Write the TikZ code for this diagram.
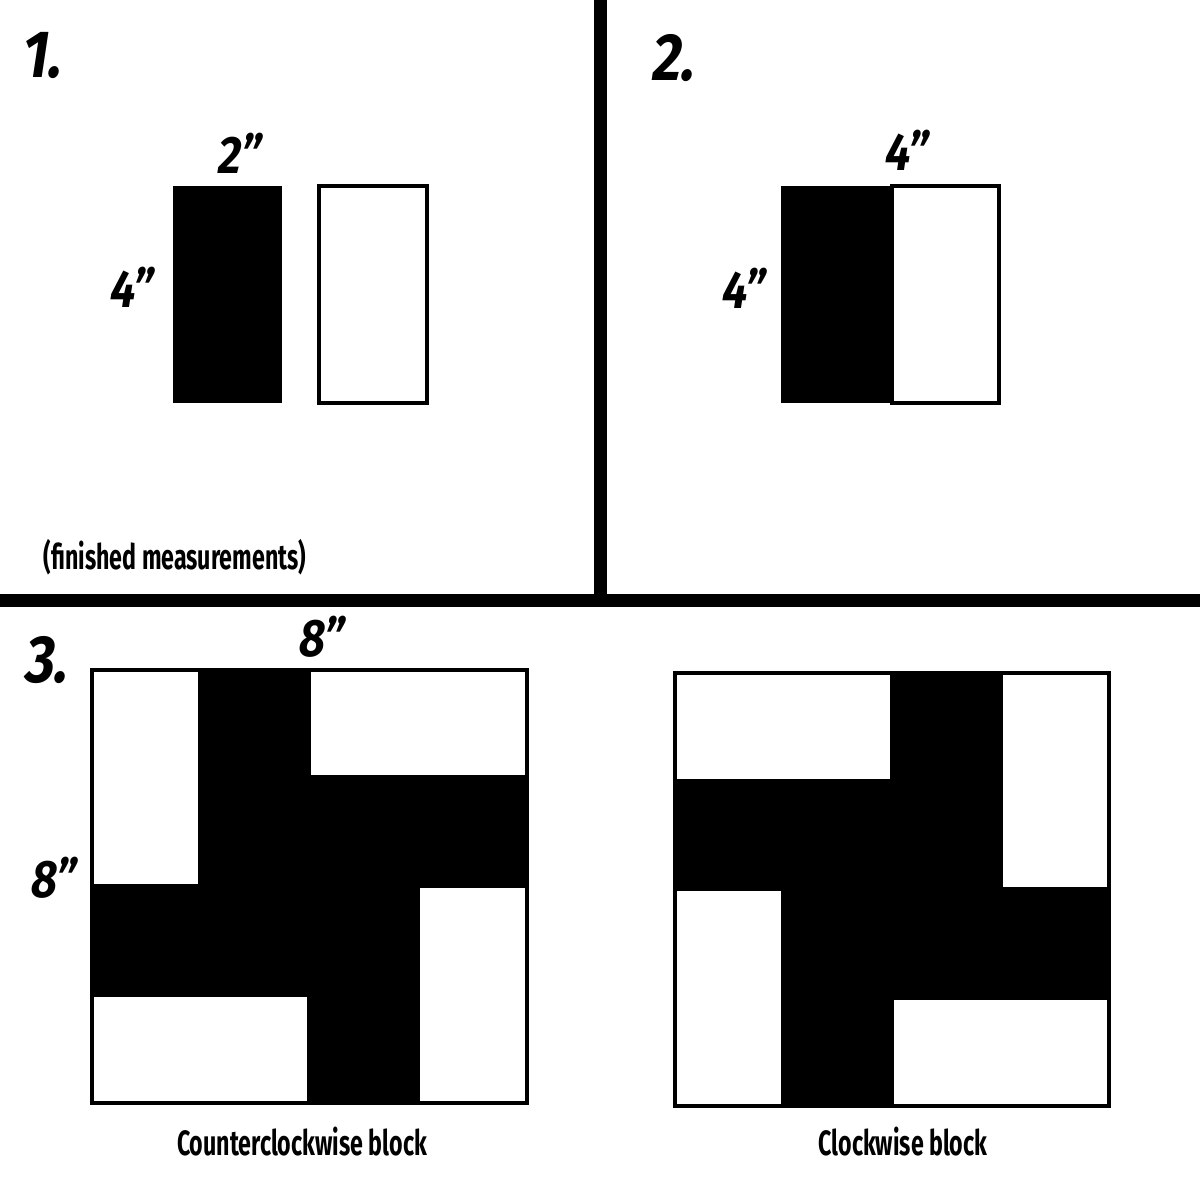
\documentclass[tikz,border=0pt]{standalone}
\usepackage{fontspec}
\usepackage{tikz}
\newfontfamily\handfont[FakeStretch=0.66]{Fira Sans}
\newfontfamily\numfont[FakeStretch=0.85, FakeSlant=0.15]{Fira Sans}

\begin{document}
\begin{tikzpicture}[x=0.1mm, y=-0.1mm,
    patch/.style={draw=black, line width=0.4mm, fill=white},
    dark/.style={fill=black},
    stepnum/.style={font=\numfont\bfseries\fontsize{19}{19}\selectfont},
    size/.style={font=\numfont\bfseries\fontsize{15}{15}\selectfont},
    caption/.style={font=\handfont\bfseries\fontsize{10}{10}\selectfont}]
    \useasboundingbox[fill=white] (0,0) rectangle (1200,1200);

    % Panel dividers
    \draw[line width=1.3mm] (600,0) -- (600,600);
    \draw[line width=1.3mm] (0,600) -- (1200,600);

    % Step 1: two loose strips
    \node[stepnum] (n1) at (40,55) {1.};
    \fill[dark] (173,186) rectangle (282,403);
    \draw[patch] (319,186) rectangle (427,403);
    \node[size] (w1) at (238,153) {2”};
    \node[size] (h1) at (130,287) {4”};
    \node[caption] (fin) at (175,557) {(finished measurements)};

    % Step 2: strips sewn together
    \node[stepnum] (n2) at (672,58) {2.};
    \fill[dark] (781,186) rectangle (892,403);
    \draw[patch] (892,186) rectangle (999,403);
    \node[size] (w2) at (905,150) {4”};
    \node[size] (h2) at (742,288) {4”};

    % Step 3: counterclockwise block
    \node[stepnum] (n3) at (45,660) {3.};
    \fill[dark] (92,670) rectangle (527,1103);
    \draw[patch] (92,670) rectangle (200,886);
    \draw[patch] (309,670) rectangle (527,777);
    \draw[patch] (418,886) rectangle (527,1103);
    \draw[patch] (92,995) rectangle (309,1103);
    \draw[line width=0.4mm] (92,670) rectangle (527,1103);
    \node[size] (w3) at (320,637) {8”};
    \node[size] (h3) at (52,878) {8”};
    \node[caption] (ccw) at (302,1142) {Counterclockwise block};

    % Step 3: clockwise block
    \fill[dark] (675,673) rectangle (1109,1106);
    \draw[patch] (675,673) rectangle (892,781);
    \draw[patch] (1001,673) rectangle (1109,889);
    \draw[patch] (892,998) rectangle (1109,1106);
    \draw[patch] (675,889) rectangle (783,1106);
    \draw[line width=0.4mm] (675,673) rectangle (1109,1106);
    \node[caption] (cw) at (903,1142) {Clockwise block};
\end{tikzpicture}
\end{document}
